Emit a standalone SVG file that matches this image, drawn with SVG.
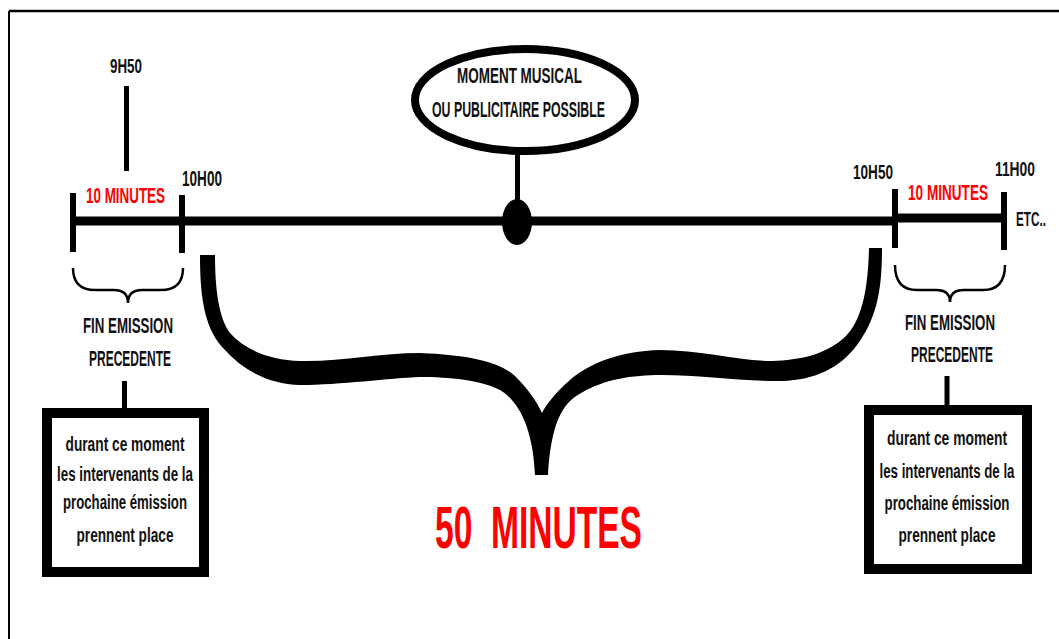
<svg xmlns="http://www.w3.org/2000/svg" width="1059" height="639" viewBox="0 0 1059 639">
<style>
.lbl{font-family:"Liberation Sans",Arial,sans-serif;font-weight:bold;fill:#111;}
.red{font-family:"Liberation Sans",Arial,sans-serif;font-weight:bold;fill:#ff0000;}
.box{fill:#fff;stroke:#000;stroke-width:10;}
.tick{stroke:#000;stroke-width:6;}
.stem{stroke:#000;stroke-width:5;fill:none;}
.brace{fill:none;stroke:#000;stroke-width:2.5;}
.bt{font-family:"Liberation Sans",Arial,sans-serif;font-weight:bold;fill:#111;font-size:20px;text-anchor:middle;}
</style>
<rect width="1059" height="639" fill="#fff"/>
<g id="frame">
<line x1="9" y1="11" x2="1059" y2="11" stroke="#000" stroke-width="2.5"/>
<line x1="9" y1="11" x2="9" y2="639" stroke="#000" stroke-width="2"/>
</g>
<g id="connectors">
<line class="stem" x1="126.5" y1="86" x2="126.5" y2="171"/>
<line class="stem" x1="517.5" y1="152" x2="517.5" y2="205"/>
<line class="stem" x1="124.5" y1="381" x2="124.5" y2="410"/>
<line class="stem" x1="947" y1="376" x2="947" y2="407"/>
</g>
<g id="timeline">
<line x1="73" y1="221" x2="895" y2="221" stroke="#000" stroke-width="9"/>
<line x1="895" y1="218" x2="1004" y2="218" stroke="#000" stroke-width="9"/>
<line class="tick" x1="73" y1="193" x2="73" y2="252"/>
<line class="tick" x1="182" y1="195" x2="182" y2="253"/>
<line class="tick" x1="895" y1="189" x2="895" y2="248"/>
<line class="tick" x1="1004" y1="192" x2="1004" y2="250"/>
<ellipse cx="517" cy="222" rx="15" ry="23" fill="#000"/>
</g>
<g id="labels">
<text class="lbl" x="110" y="73" font-size="21" textLength="32" lengthAdjust="spacingAndGlyphs">9H50</text>
<text class="red" x="86" y="203" font-size="22" textLength="79" lengthAdjust="spacingAndGlyphs">10 MINUTES</text>
<text class="lbl" x="182" y="186" font-size="22" textLength="40" lengthAdjust="spacingAndGlyphs">10H00</text>
<text class="lbl" x="853" y="179" font-size="20" textLength="40" lengthAdjust="spacingAndGlyphs">10H50</text>
<text class="lbl" x="995" y="176" font-size="20" textLength="40" lengthAdjust="spacingAndGlyphs">11H00</text>
<text class="red" x="908" y="200" font-size="22" textLength="80" lengthAdjust="spacingAndGlyphs">10 MINUTES</text>
<text class="lbl" x="1016" y="226" font-size="20" textLength="30" lengthAdjust="spacingAndGlyphs">ETC..</text>
</g>
<g id="moment">
<ellipse cx="525" cy="100" rx="110" ry="51" fill="#fff" stroke="#000" stroke-width="8"/>
<text class="lbl" x="457" y="83" font-size="22" textLength="125" lengthAdjust="spacingAndGlyphs">MOMENT MUSICAL</text>
<text class="lbl" x="432" y="117" font-size="22" textLength="173" lengthAdjust="spacingAndGlyphs">OU PUBLICITAIRE POSSIBLE</text>
</g>
<g id="brace-left">
<path class="brace" d="M73 268 Q73 290 95 290 L114 290 Q128 290 128 303 Q128 290 142 290 L161 290 Q183 290 183 268"/>
<text class="lbl" x="83" y="333" font-size="22" textLength="90" lengthAdjust="spacingAndGlyphs">FIN EMISSION</text>
<text class="lbl" x="89" y="366" font-size="22" textLength="82" lengthAdjust="spacingAndGlyphs">PRECEDENTE</text>
</g>
<g id="brace-right">
<path class="brace" d="M895 265 Q895 290 917 290 L936 290 Q950 290 950 302 Q950 290 964 290 L983 290 Q1005 290 1005 265"/>
<text class="lbl" x="905" y="330" font-size="22" textLength="90" lengthAdjust="spacingAndGlyphs">FIN EMISSION</text>
<text class="lbl" x="911" y="362" font-size="22" textLength="82" lengthAdjust="spacingAndGlyphs">PRECEDENTE</text>
</g>
<g id="brace-big">
<path fill="#000" d="M200 255 C200 300 205 330 225 350 C245 372 270 384 300 385 C340 385 390 378 420 377 C450 377 480 380 500 390 C520 402 533 430 535 475 L548 475 C550 440 556 415 570 401 C585 388 610 378 640 376 C680 372 740 382 782 381 C815 380 840 368 857 345 C877 318 882 290 882 248 L869 248 C868 290 862 320 845 337 C825 355 800 360 772 361 C740 361 700 350 660 350 C620 351 590 363 570 380 C555 393 546 405 542 413 C536 400 527 388 515 376 C500 362 470 355 420 353 C380 353 340 362 300 361 C270 360 245 350 230 333 C219 318 215 290 215 255 Z"/>
<text class="red" x="435" y="548" font-size="60" textLength="207" lengthAdjust="spacingAndGlyphs" xml:space="preserve">50  MINUTES</text>
</g>
<g id="box-left">
<rect class="box" x="47" y="413" width="157" height="159"/>
<text class="bt" x="125" y="451" textLength="119" lengthAdjust="spacingAndGlyphs">durant ce moment</text>
<text class="bt" x="125" y="481" textLength="136" lengthAdjust="spacingAndGlyphs">les intervenants de la</text>
<text class="bt" x="125" y="509" textLength="124" lengthAdjust="spacingAndGlyphs">prochaine émission</text>
<text class="bt" x="125" y="542" textLength="97" lengthAdjust="spacingAndGlyphs">prennent place</text>
</g>
<g id="box-right">
<rect class="box" x="869" y="410" width="158" height="159"/>
<text class="bt" x="947" y="445" textLength="120" lengthAdjust="spacingAndGlyphs">durant ce moment</text>
<text class="bt" x="947" y="478" textLength="135" lengthAdjust="spacingAndGlyphs">les intervenants de la</text>
<text class="bt" x="947" y="510" textLength="125" lengthAdjust="spacingAndGlyphs">prochaine émission</text>
<text class="bt" x="947" y="542" textLength="97" lengthAdjust="spacingAndGlyphs">prennent place</text>
</g>
</svg>
